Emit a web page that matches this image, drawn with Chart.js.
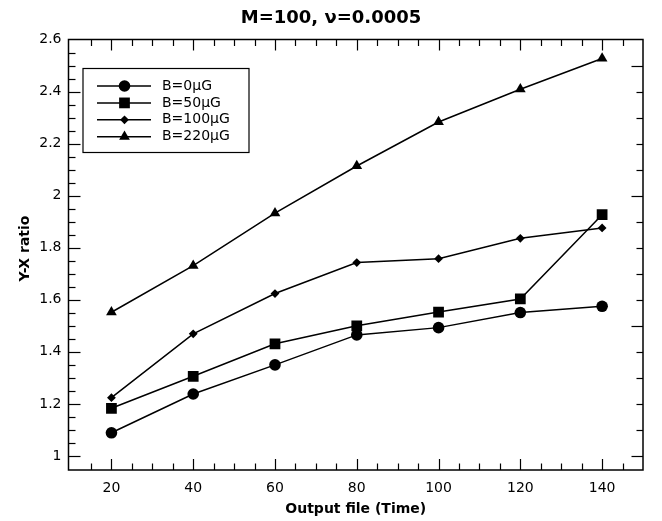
<!DOCTYPE html>
<html>
<head>
<meta charset="utf-8">
<script src="https://cdn.jsdelivr.net/npm/chart.js@4.4.1/dist/chart.umd.min.js"></script>
<style>
  html, body { margin: 0; padding: 0; background: #fff; }
  #wrap { width: 662px; height: 521px; }
</style>
</head>
<body>
<div id="wrap"><canvas id="chart" width="662" height="521"></canvas></div>
<script>
// data
const times = [20, 40, 60, 80, 100, 120, 140];
const b0 = [1.089, 1.238, 1.350, 1.465, 1.493, 1.551, 1.575];
const b50 = [1.183, 1.306, 1.431, 1.500, 1.553, 1.603, 1.927];
const b100 = [1.224, 1.469, 1.624, 1.743, 1.758, 1.836, 1.876];
const b220 = [1.552, 1.731, 1.933, 2.114, 2.283, 2.409, 2.527];
const seriesLabels = ["B=0μG", "B=50μG", "B=100μG", "B=220μG"];
const xTicks = [20, 40, 60, 80, 100, 120, 140];
const yTicks = [1, 1.2, 1.4, 1.6, 1.8, 2, 2.2, 2.4, 2.6];
const yTickLabels = ["1", "1.2", "1.4", "1.6", "1.8", "2", "2.2", "2.4", "2.6"];

const FONT = "'DejaVu Sans', sans-serif";

function pts(ys) {
  return times.map((t, i) => ({ x: t, y: ys[i] }));
}

function series(label, ys, style, radius) {
  return {
    label: label,
    data: pts(ys),
    borderColor: "#000",
    backgroundColor: "#000",
    borderWidth: 1.5,
    pointStyle: style,
    pointRadius: radius,
    pointHoverRadius: radius,
    pointBorderWidth: 0,
    pointBackgroundColor: "#000",
    tension: 0,
  };
}

function line(ctx, x1, y1, x2, y2) {
  ctx.beginPath();
  ctx.moveTo(x1, y1);
  ctx.lineTo(x2, y2);
  ctx.stroke();
}

// frame + inward ticks on all four sides, plus the y axis title
const frameTicks = {
  id: "frameTicks",
  afterDatasetsDraw(chart) {
    const ctx = chart.ctx;
    const a = chart.chartArea;
    const xs = chart.scales.x;
    const ys = chart.scales.y;
    ctx.save();
    ctx.strokeStyle = "#000";
    ctx.lineWidth = 1.2;
    for (let v = 15; v <= 145; v += 5) {
      const px = Math.round(xs.getPixelForValue(v)) + 0.5;
      const len = v % 20 === 0 ? 11 : 6.5;
      line(ctx, px, a.bottom, px, a.bottom - len);
      line(ctx, px, a.top, px, a.top + len);
    }
    for (let k = 20; k <= 51; k++) {
      const py = Math.round(ys.getPixelForValue(k * 0.05)) + 0.5;
      const len = k % 4 === 0 ? 12 : 7;
      line(ctx, a.left, py, a.left + len, py);
    }
    for (let k = 10; k <= 25; k++) {
      const py = Math.round(ys.getPixelForValue(k * 0.1)) + 0.5;
      const len = k % 5 === 0 ? 11.5 : 6.5;
      line(ctx, a.right, py, a.right - len, py);
    }
    ctx.lineWidth = 1.5;
    ctx.strokeRect(a.left, a.top, a.right - a.left, a.bottom - a.top);

    // y title
    ctx.translate(25, 248.5);
    ctx.rotate(-Math.PI / 2);
    ctx.fillStyle = "#000";
    ctx.font = "bold 14px " + FONT;
    ctx.textAlign = "center";
    ctx.textBaseline = "middle";
    ctx.fillText("Y-X ratio", 0, 0);
    ctx.restore();
  },
};

// boxed legend with line + marker samples
const boxLegend = {
  id: "boxLegend",
  afterDraw(chart) {
    const ctx = chart.ctx;
    ctx.save();
    ctx.strokeStyle = "#000";
    ctx.fillStyle = "#000";
    ctx.lineWidth = 1.2;
    ctx.strokeRect(83, 68.5, 166, 84);
    ctx.font = "14px " + FONT;
    ctx.textBaseline = "middle";
    ctx.textAlign = "left";
    chart.data.datasets.forEach((ds, i) => {
      const yy = 86 + i * 16.9;
      ctx.lineWidth = 1.5;
      line(ctx, 97, yy, 151, yy);
      Chart.helpers.drawPoint(ctx, {
        pointStyle: ds.pointStyle,
        radius: ds.pointRadius,
        borderWidth: 0,
        rotation: 0,
      }, 124.5, yy);
      ctx.fillText(ds.label, 162, yy);
    });
    ctx.restore();
  },
};

new Chart(document.getElementById("chart"), {
  type: "line",
  data: {
    datasets: [
      series(seriesLabels[0], b0, "circle", 5.8),
      series(seriesLabels[1], b50, "rect", 7.6),
      series(seriesLabels[2], b100, "rectRot", 4.4),
      series(seriesLabels[3], b220, "triangle", 6.2),
    ],
  },
  options: {
    responsive: false,
    animation: false,
    devicePixelRatio: 1,
    layout: { padding: 0 },
    plugins: {
      legend: { display: false },
      tooltip: { enabled: false },
      title: {
        display: true,
        text: "M=100, ν=0.0005",
        color: "#000",
        font: { family: FONT, size: 18, weight: "bold" },
        padding: { top: 7.7, bottom: 10.2 },
      },
    },
    scales: {
      x: {
        type: "linear",
        min: 9.5,
        max: 150,
        grid: { display: false, drawTicks: false },
        border: { display: false },
        afterBuildTicks(scale) {
          scale.ticks = xTicks.map((v) => ({ value: v }));
        },
        afterFit(scale) {
          scale.height = 51;
        },
        ticks: {
          color: "#000",
          padding: 10,
          maxRotation: 0,
          autoSkip: false,
          font: { family: FONT, size: 14 },
          callback: (v) => String(v),
        },
        title: {
          display: true,
          text: "Output file (Time)",
          color: "#000",
          font: { family: FONT, size: 14, weight: "bold" },
          padding: { top: 0, bottom: 3.6 },
        },
      },
      y: {
        type: "linear",
        min: 0.946,
        max: 2.6,
        grid: { display: false, drawTicks: false },
        border: { display: false },
        afterBuildTicks(scale) {
          scale.ticks = yTicks.map((v) => ({ value: v }));
        },
        afterFit(scale) {
          scale.width = 68.5;
        },
        ticks: {
          color: "#000",
          padding: 7,
          autoSkip: false,
          font: { family: FONT, size: 14 },
          callback: (v, i) => yTickLabels[i],
        },
      },
      // empty right axis that only reserves the right margin
      y2: {
        type: "linear",
        position: "right",
        min: 0.946,
        max: 2.6,
        grid: { display: false, drawTicks: false },
        border: { display: false },
        ticks: { display: false },
        afterFit(scale) {
          scale.width = 19;
        },
      },
    },
  },
  plugins: [frameTicks, boxLegend],
});
</script>
</body>
</html>
